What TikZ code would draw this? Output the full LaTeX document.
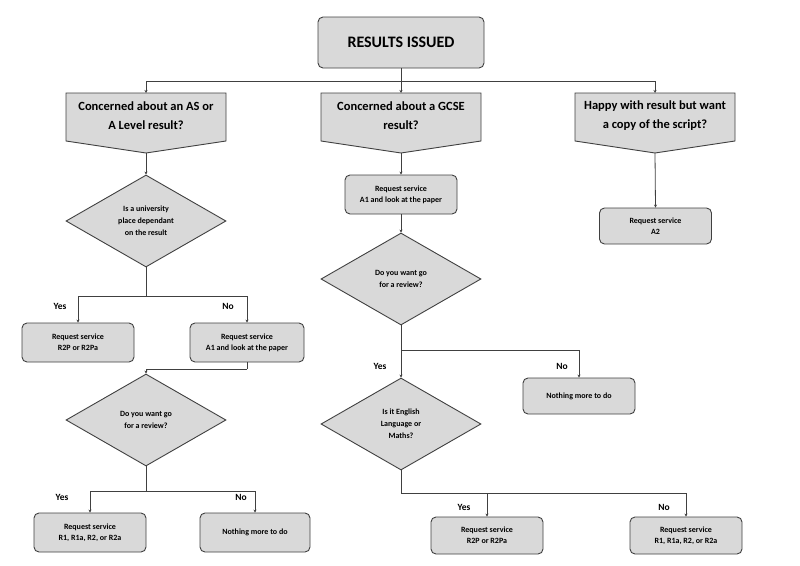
\documentclass[tikz,border=0pt]{standalone}
\usepackage{fontspec}
\setmainfont{Carlito}
\usetikzlibrary{shapes.geometric,arrows.meta}
\definecolor{fillg}{HTML}{D9D9D9}
\definecolor{edge}{HTML}{404040}
\begin{document}
\begin{tikzpicture}[x=1pt,y=-1pt,
 box/.style={draw=edge,fill=fillg,rounded corners=5pt,line width=0.9pt,minimum width=112pt,minimum height=39pt,align=center,font=\fontsize{8}{11}\selectfont\bfseries},
 dia/.style={draw=edge,fill=fillg,diamond,aspect=1.74,line width=0.9pt,minimum width=160pt,minimum height=92pt,inner sep=0pt,align=center,font=\fontsize{8}{12}\selectfont\bfseries},
 pent/.style={draw=edge,fill=fillg,line width=0.9pt},
 ln/.style={draw=edge,line width=0.8pt},
 ar/.style={ln,-{Stealth[length=3pt,width=3pt]}},
 lab/.style={font=\fontsize{9.5}{11}\selectfont\bfseries}]
\useasboundingbox (0,0) rectangle (800,565);
\node[box,minimum width=166pt,minimum height=51pt,font=\fontsize{16}{18}\selectfont\bfseries] (t) at (401,42.5) {RESULTS ISSUED};
% pentagons
\foreach \n/\c in {pa/146,pg/401,ph/655}{
 \draw[pent] (\c-80,93) -- (\c+80,93) -- (\c+80,141) -- (\c,153) -- (\c-80,141) -- cycle;
 \coordinate (\n) at (\c,93); \coordinate (\n b) at (\c,153);}
\node[font=\fontsize{12.5}{19}\selectfont\bfseries,align=center] (pat) at (146,116) {Concerned about an AS or\\A Level result?};
\node[font=\fontsize{12.5}{19}\selectfont\bfseries,align=center] (pgt) at (401,116) {Concerned about a GCSE\\result?};
\node[font=\fontsize{12.5}{19}\selectfont\bfseries,align=center] (pht) at (655,116) {Happy with result but want\\a copy of the script?};
\coordinate (tj) at (401,81);
\draw[ln] (t.south) -- (tj);
\draw[ar] (tj) -| (pa);
\draw[ar] (tj) -- (pg);
\draw[ar] (tj) -| (ph);
% left branch
\node[dia] (d1) at (146,221) {Is a university\\place dependant\\on the result};
\node[box] (r2p) at (78,342.5) {Request service\\R2P or R2Pa};
\node[box,minimum width=114pt] (a1l) at (247,342.5) {Request service\\A1 and look at the paper};
\draw[ar] (pab) -- (d1.north);
\coordinate (j1) at (146,296);
\draw[ln] (d1.south) -- (j1);
\draw[ar] (j1) -| (r2p.north);
\draw[ar] (j1) -| (a1l.north);
\node[lab] (y1) at (60,306) {Yes};
\node[lab] (n1) at (228,306) {No};
\node[dia] (d2) at (146,420) {Do you want go\\for a review?};
\coordinate (j2) at (247,369);
\draw[ln] (a1l.south) -- (j2);
\draw[ar] (j2) -| (d2.north);
\node[box] (rl) at (90,532.5) {Request service\\R1, R1a, R2, or R2a};
\node[box,minimum width=110pt] (nl) at (255,532.5) {Nothing more to do};
\coordinate (j3) at (146,491);
\draw[ln] (d2.south) -- (j3);
\draw[ar] (j3) -| (rl.north);
\draw[ar] (j3) -| (nl.north);
\node[lab] (y2) at (62,497) {Yes};
\node[lab] (n2) at (241,497) {No};
% middle branch
\node[box] (a1m) at (401,194.5) {Request service\\A1 and look at the paper};
\draw[ar] (pgb) -- (a1m.north);
\node[dia] (d3) at (401,279) {Do you want go\\for a review?};
\draw[ar] (a1m.south) -- (d3.north);
\coordinate (j4) at (401,350);
\node[box,minimum height=36pt] (nm) at (579,396) {Nothing more to do};
\draw[ln] (d3.south) -- (j4);
\draw[ar] (j4) -| (nm.north);
\node[lab] (y3) at (380,366) {Yes};
\node[lab] (n3) at (562,366) {No};
\node[dia] (d4) at (401,424) {Is it English\\Language or\\Maths?};
\draw[ar] (j4) -- (d4.north);
\coordinate (j5) at (401,493);
\node[box,minimum height=37pt] (rm1) at (487,535.5) {Request service\\R2P or R2Pa};
\node[box,minimum height=37pt] (rm2) at (686,535.5) {Request service\\R1, R1a, R2, or R2a};
\draw[ln] (d4.south) -- (j5);
\draw[ar] (j5) -| (rm1.north);
\draw[ar] (j5) -| (rm2.north);
\node[lab] (y4) at (464,507) {Yes};
\node[lab] (n4) at (664,507) {No};
% right branch
\node[box,minimum height=36pt] (a2) at (655.5,226) {Request service\\A2};
\draw[ar] (phb) -- (a2.north);
\end{tikzpicture}
\end{document}
